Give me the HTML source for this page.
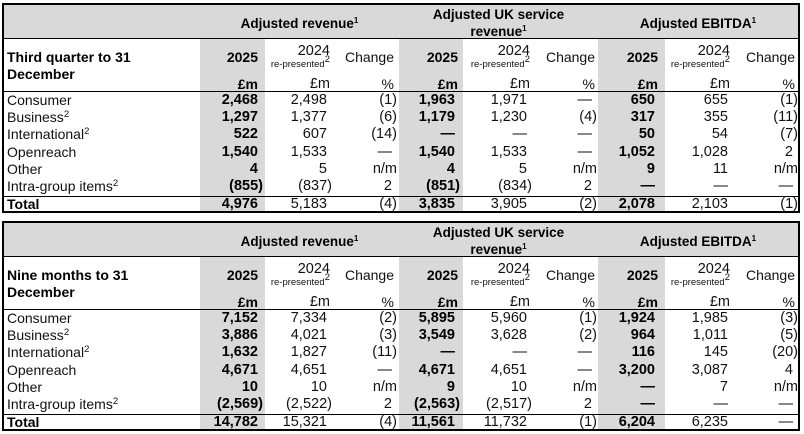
<!DOCTYPE html>
<html><head><meta charset="utf-8">
<style>
html,body{margin:0;padding:0}
body{width:804px;height:434px;background:#fff;overflow:hidden;position:relative;font-family:"Liberation Sans",Arial,sans-serif;color:#111;font-size:14px}
.t{position:absolute;left:2px;width:798px;height:210px;border:2px solid #000;box-sizing:border-box}
.hb{position:absolute;left:0;top:0;width:794px;height:33px;background:#d9d9d9}
.st{position:absolute;top:34px;height:172px;background:#d9d9d9}
.ln{position:absolute;left:0;width:794px;height:1px;background:#000}
.gt{position:absolute;text-align:center;font-weight:bold;font-size:13.5px;line-height:17px;color:#000;white-space:nowrap}
.gt sup{font-size:8px;position:relative;top:-5px;vertical-align:baseline}
.lab{position:absolute;left:3px;top:43.5px;font-weight:bold;font-size:14px;line-height:17px;color:#000;white-space:nowrap}
.r{position:absolute;left:0;width:794px;display:flex;white-space:nowrap}
.r>div{box-sizing:border-box;text-align:right;flex:none;font-size:14.5px}
.r>div:nth-child(1){width:196px;text-align:left;padding-left:3px;font-size:14px}
.r>div:nth-child(2){width:65px;padding-right:7px;font-weight:bold;color:#000}
.r>div:nth-child(3){width:70px;padding-right:8px}
.r>div:nth-child(4){width:64px;padding-right:7px}
.r>div:nth-child(5){width:64px;padding-right:8px;font-weight:bold;color:#000}
.r>div:nth-child(6){width:73px;padding-right:9px}
.r>div:nth-child(7){width:62px;padding-right:6px}
.r>div:nth-child(8){width:67px;padding-right:10px;font-weight:bold;color:#000}
.r>div:nth-child(9){width:70px;padding-right:7px}
.r>div:nth-child(10){width:63px;padding-right:5px}
.hr>div{font-size:14px}
.hr>div:nth-child(2){padding-right:7px}
.hr>div:nth-child(3){padding-right:5px;font-size:14.5px}
.hr>div:nth-child(4){padding-right:5px}
.hr>div:nth-child(5){padding-right:5px}
.hr>div:nth-child(6){padding-right:6px;font-size:14.5px}
.hr>div:nth-child(7){padding-right:3px}
.hr>div:nth-child(8){padding-right:7px}
.hr>div:nth-child(9){padding-right:5px;font-size:14.5px}
.hr>div:nth-child(10){padding-right:3px}
.sm>div{font-size:9.5px !important}
.sm sup{font-size:6.5px;position:relative;top:-3px;vertical-align:baseline}
.r sup{font-size:9.5px;position:relative;top:-5px;vertical-align:baseline}
.h{margin-right:-5px}
.tot>div:nth-child(1){font-weight:bold;color:#000}
</style></head><body>

<div class="t" style="top:3px">
 <div class="hb"></div>
 <div class="st" style="left:196px;width:65px"></div>
 <div class="st" style="left:395px;width:64px"></div>
 <div class="st" style="left:594px;width:67px"></div>
 <div class="ln" style="top:33px"></div>
 <div class="ln" style="top:86px"></div>
 <div class="ln" style="top:191px"></div>
 <div class="gt" style="left:196px;width:199px;top:9.5px">Adjusted revenue<sup>1</sup></div>
 <div class="gt" style="left:395px;width:199px;top:0.5px">Adjusted UK service<br>revenue<sup>1</sup></div>
 <div class="gt" style="left:594px;width:200px;top:9.5px">Adjusted EBITDA<sup>1</sup></div>
 <div class="lab">Third quarter to 31<br>December</div>
 <div class="r hr" style="top:43.5px;height:17px;line-height:17px"><div></div><div>2025</div><div></div><div>Change</div><div>2025</div><div></div><div>Change</div><div>2025</div><div></div><div>Change</div></div>
 <div class="r hr" style="top:37.5px;height:17px;line-height:17px"><div></div><div></div><div>2024</div><div></div><div></div><div>2024</div><div></div><div></div><div>2024</div><div></div></div>
 <div class="r hr sm" style="top:55px;height:10px;line-height:10px"><div></div><div></div><div>re-presented<sup>2</sup></div><div></div><div></div><div>re-presented<sup>2</sup></div><div></div><div></div><div>re-presented<sup>2</sup></div><div></div></div>
 <div class="r hr" style="top:71px;height:17px;line-height:17px"><div></div><div>£m</div><div>£m</div><div>%</div><div>£m</div><div>£m</div><div>%</div><div>£m</div><div>£m</div><div>%</div></div>

 <div class="r" style="top:87px;height:17px;line-height:17px"><div>Consumer</div><div>2,468</div><div>2,498</div><div><span class="h">(1)</span></div><div>1,963</div><div>1,971</div><div>—</div><div>650</div><div>655</div><div><span class="h">(1)</span></div></div>
 <div class="r" style="top:104px;height:17px;line-height:17px"><div>Business<sup>2</sup></div><div>1,297</div><div>1,377</div><div><span class="h">(6)</span></div><div>1,179</div><div>1,230</div><div><span class="h">(4)</span></div><div>317</div><div>355</div><div><span class="h">(11)</span></div></div>
 <div class="r" style="top:121px;height:17px;line-height:17px"><div>International<sup>2</sup></div><div>522</div><div>607</div><div><span class="h">(14)</span></div><div>—</div><div>—</div><div>—</div><div>50</div><div>54</div><div><span class="h">(7)</span></div></div>
 <div class="r" style="top:138.5px;height:17px;line-height:17px"><div>Openreach</div><div>1,540</div><div>1,533</div><div>—</div><div>1,540</div><div>1,533</div><div>—</div><div>1,052</div><div>1,028</div><div>2</div></div>
 <div class="r" style="top:155.5px;height:17px;line-height:17px"><div>Other</div><div>4</div><div>5</div><div><span class="h">n/m</span></div><div>4</div><div>5</div><div><span class="h">n/m</span></div><div>9</div><div>11</div><div><span class="h">n/m</span></div></div>
 <div class="r" style="top:172.5px;height:17px;line-height:17px"><div>Intra-group items<sup>2</sup></div><div><span class="h">(855)</span></div><div><span class="h">(837)</span></div><div>2</div><div><span class="h">(851)</span></div><div><span class="h">(834)</span></div><div>2</div><div>—</div><div>—</div><div>—</div></div>
 <div class="r tot" style="top:191.5px;height:15px;line-height:15px"><div>Total</div><div>4,976</div><div>5,183</div><div><span class="h">(4)</span></div><div>3,835</div><div>3,905</div><div><span class="h">(2)</span></div><div>2,078</div><div>2,103</div><div><span class="h">(1)</span></div></div>
</div>

<div class="t" style="top:221px">
 <div class="hb"></div>
 <div class="st" style="left:196px;width:65px"></div>
 <div class="st" style="left:395px;width:64px"></div>
 <div class="st" style="left:594px;width:67px"></div>
 <div class="ln" style="top:33px"></div>
 <div class="ln" style="top:86px"></div>
 <div class="ln" style="top:191px"></div>
 <div class="gt" style="left:196px;width:199px;top:9.5px">Adjusted revenue<sup>1</sup></div>
 <div class="gt" style="left:395px;width:199px;top:0.5px">Adjusted UK service<br>revenue<sup>1</sup></div>
 <div class="gt" style="left:594px;width:200px;top:9.5px">Adjusted EBITDA<sup>1</sup></div>
 <div class="lab">Nine months to 31<br>December</div>
 <div class="r hr" style="top:43.5px;height:17px;line-height:17px"><div></div><div>2025</div><div></div><div>Change</div><div>2025</div><div></div><div>Change</div><div>2025</div><div></div><div>Change</div></div>
 <div class="r hr" style="top:37.5px;height:17px;line-height:17px"><div></div><div></div><div>2024</div><div></div><div></div><div>2024</div><div></div><div></div><div>2024</div><div></div></div>
 <div class="r hr sm" style="top:55px;height:10px;line-height:10px"><div></div><div></div><div>re-presented<sup>2</sup></div><div></div><div></div><div>re-presented<sup>2</sup></div><div></div><div></div><div>re-presented<sup>2</sup></div><div></div></div>
 <div class="r hr" style="top:70.5px;height:17px;line-height:17px"><div></div><div>£m</div><div>£m</div><div>%</div><div>£m</div><div>£m</div><div>%</div><div>£m</div><div>£m</div><div>%</div></div>

 <div class="r" style="top:87px;height:17px;line-height:17px"><div>Consumer</div><div>7,152</div><div>7,334</div><div><span class="h">(2)</span></div><div>5,895</div><div>5,960</div><div><span class="h">(1)</span></div><div>1,924</div><div>1,985</div><div><span class="h">(3)</span></div></div>
 <div class="r" style="top:104px;height:17px;line-height:17px"><div>Business<sup>2</sup></div><div>3,886</div><div>4,021</div><div><span class="h">(3)</span></div><div>3,549</div><div>3,628</div><div><span class="h">(2)</span></div><div>964</div><div>1,011</div><div><span class="h">(5)</span></div></div>
 <div class="r" style="top:121px;height:17px;line-height:17px"><div>International<sup>2</sup></div><div>1,632</div><div>1,827</div><div><span class="h">(11)</span></div><div>—</div><div>—</div><div>—</div><div>116</div><div>145</div><div><span class="h">(20)</span></div></div>
 <div class="r" style="top:138.5px;height:17px;line-height:17px"><div>Openreach</div><div>4,671</div><div>4,651</div><div>—</div><div>4,671</div><div>4,651</div><div>—</div><div>3,200</div><div>3,087</div><div>4</div></div>
 <div class="r" style="top:155.5px;height:17px;line-height:17px"><div>Other</div><div>10</div><div>10</div><div><span class="h">n/m</span></div><div>9</div><div>10</div><div><span class="h">n/m</span></div><div>—</div><div>7</div><div><span class="h">n/m</span></div></div>
 <div class="r" style="top:172.5px;height:17px;line-height:17px"><div>Intra-group items<sup>2</sup></div><div><span class="h">(2,569)</span></div><div><span class="h">(2,522)</span></div><div>2</div><div><span class="h">(2,563)</span></div><div><span class="h">(2,517)</span></div><div>2</div><div>—</div><div>—</div><div>—</div></div>
 <div class="r tot" style="top:191.5px;height:15px;line-height:15px"><div>Total</div><div>14,782</div><div>15,321</div><div><span class="h">(4)</span></div><div>11,561</div><div>11,732</div><div><span class="h">(1)</span></div><div>6,204</div><div>6,235</div><div>—</div></div>
</div>

</body></html>
